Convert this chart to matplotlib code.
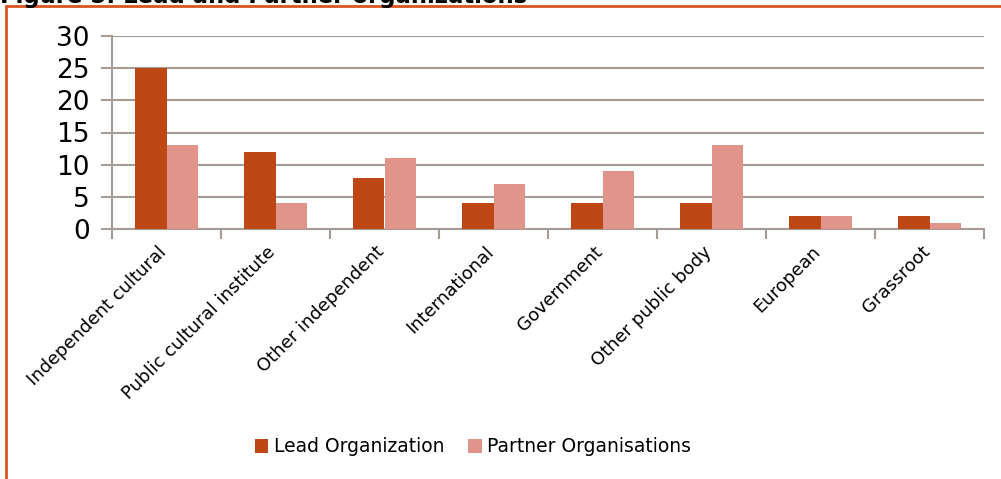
import numpy as np
import matplotlib.pyplot as plt
from matplotlib.patches import Rectangle
from matplotlib.transforms import ScaledTranslation

categories = ["Independent cultural", "Public cultural institute", "Other independent",
              "International", "Government", "Other public body", "European", "Grassroot"]
lead = [25, 12, 8, 4, 4, 4, 2, 2]
partner = [13, 4, 11, 7, 9, 13, 2, 1]
yticks = [0, 5, 10, 15, 20, 25, 30]

lead_color = "#BD4815"
partner_color = "#E0948A"
grid_color = "#A69C95"

fig = plt.figure(figsize=(10.01, 4.79), dpi=100)

# orange frame around the chart (left and top edges visible)
fig.add_artist(Rectangle((6 / 1001, -0.1), 1.2, 1 - 6 / 479 + 0.1, transform=fig.transFigure,
                         fill=False, edgecolor="#D9541E", linewidth=2))
# title, mostly cut off at the top like in the source page
fig.text(0.0, 1 - 3 / 479, "Figure 5: Lead and Partner organizations", fontsize=16.4,
         fontweight="bold", va="baseline", ha="left")

ax = fig.add_axes([112 / 1001, 1 - 229 / 479, (984 - 112) / 1001, (229 - 36) / 479])

x = np.arange(len(categories))
w = 0.285
ax.bar(x - w / 2, lead, w, color=lead_color, label="Lead Organization", zorder=3)
ax.bar(x + w / 2, partner, w, color=partner_color, label="Partner Organisations", zorder=3)

ax.set_xlim(-0.5, len(categories) - 0.5)
ax.set_ylim(0, 30)
ax.set_yticks(yticks)
ax.yaxis.grid(True, color=grid_color, linewidth=1.5, zorder=0)
ax.set_axisbelow(True)

for s in ["top", "right"]:
    ax.spines[s].set_visible(False)
for s in ["left", "bottom"]:
    ax.spines[s].set_color(grid_color)
    ax.spines[s].set_linewidth(1.5)

ax.tick_params(axis="y", length=8, width=1.5, color=grid_color, labelsize=19, pad=8)
ax.set_xticks(np.arange(len(categories) + 1) - 0.5, minor=False)
ax.set_xticklabels([])
ax.tick_params(axis="x", which="major", length=7, width=1.5, color=grid_color)
ax.set_xticks(x, minor=True)
ax.set_xticklabels(categories, minor=True, rotation=45, ha="right",
                   rotation_mode="anchor", fontsize=13)
ax.tick_params(axis="x", which="minor", length=0, pad=12)
shift = ScaledTranslation(-9 / 100, 3 / 100, fig.dpi_scale_trans)
for lbl in ax.get_xticklabels(minor=True):
    lbl.set_transform(lbl.get_transform() + shift)

ax.legend(loc="center", bbox_to_anchor=(473 / 1001, 1 - 447 / 479),
          bbox_transform=fig.transFigure, ncol=2, frameon=False, fontsize=13.5,
          handlelength=0.7, handleheight=0.7, handletextpad=0.3, columnspacing=1.3)

fig.savefig("out.png", dpi=100)
